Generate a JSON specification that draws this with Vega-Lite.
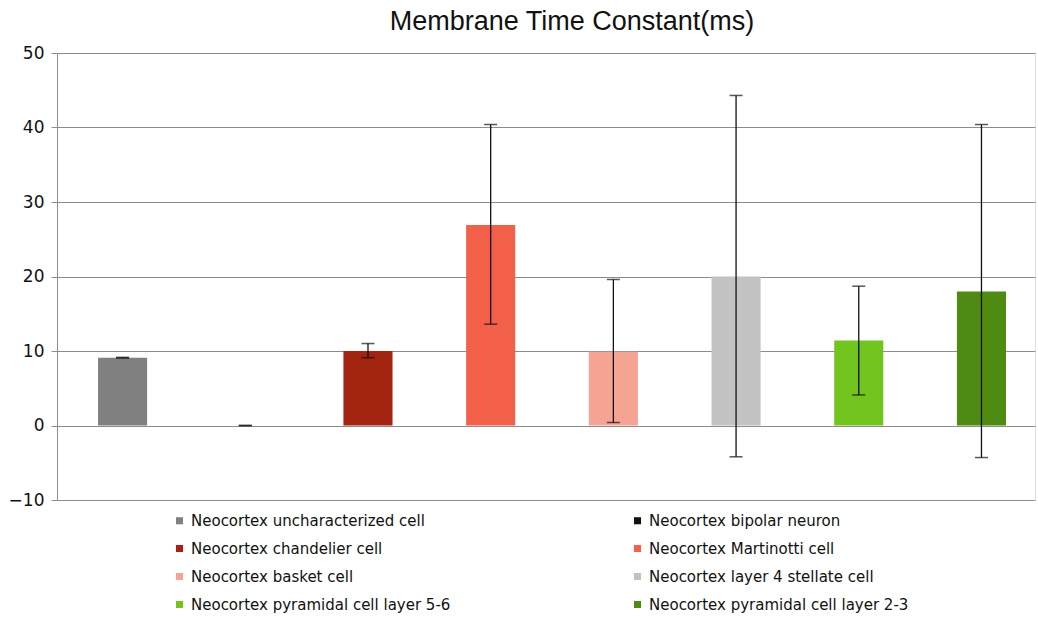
{
  "$schema": "https://vega.github.io/schema/vega-lite/v6.json",
  "width": 978,
  "height": 447,
  "autosize": "none",
  "padding": {"left": 57, "top": 53, "right": 3, "bottom": 117},
  "background": "white",
  "title": {"text": "Membrane Time Constant(ms)", "font": "Liberation Sans", "fontSize": 27, "fontWeight": "normal", "color": "#111111", "offset": 8, "anchor": "middle", "dx": 26},
  "data": {"values": [
    {"cell": "Neocortex uncharacterized cell", "value": 9.1, "lo": 9.05, "hi": 9.15},
    {"cell": "Neocortex bipolar neuron", "value": 0, "lo": 0, "hi": 0},
    {"cell": "Neocortex chandelier cell", "value": 10.0, "lo": 9.1, "hi": 11.0},
    {"cell": "Neocortex Martinotti cell", "value": 26.9, "lo": 13.6, "hi": 40.4},
    {"cell": "Neocortex basket cell", "value": 9.9, "lo": 0.4, "hi": 19.6},
    {"cell": "Neocortex layer 4 stellate cell", "value": 20.0, "lo": -4.2, "hi": 44.3},
    {"cell": "Neocortex pyramidal cell layer 5-6", "value": 11.4, "lo": 4.1, "hi": 18.7},
    {"cell": "Neocortex pyramidal cell layer 2-3", "value": 18.0, "lo": -4.3, "hi": 40.4}
  ]},
  "encoding": {
    "x": {"field": "cell", "type": "nominal", "sort": null, "axis": null, "scale": {"paddingInner": 0.6, "paddingOuter": 0.2855, "align": 0.586}}
  },
  "layer": [
    {
      "mark": {"type": "bar"},
      "encoding": {
        "y": {"field": "value", "type": "quantitative", "scale": {"domain": [-10, 50], "nice": false, "zero": false},
          "axis": {"title": null, "values": [-10, 0, 10, 20, 30, 40, 50], "grid": true, "gridColor": "#8c8c8c", "gridOpacity": 1, "domain": true, "domainColor": "#8c8c8c", "tickColor": "#8c8c8c", "tickSize": 6, "labelFont": "DejaVu Sans", "labelFontSize": 17, "labelColor": "#111111", "labelPadding": 7}},
        "color": {"field": "cell", "type": "nominal",
          "scale": {"domain": ["Neocortex uncharacterized cell", "Neocortex chandelier cell", "Neocortex basket cell", "Neocortex pyramidal cell layer 5-6", "Neocortex bipolar neuron", "Neocortex Martinotti cell", "Neocortex layer 4 stellate cell", "Neocortex pyramidal cell layer 2-3"],
            "range": ["#808080", "#a2230f", "#f5a393", "#72c41e", "#111111", "#f2604a", "#c2c2c2", "#4f8a12"]},
          "legend": {"title": null, "orient": "none", "legendX": 115, "legendY": 460, "columns": 2, "columnPadding": 179, "rowPadding": 12, "symbolType": "square", "symbolSize": 50, "symbolStrokeWidth": 0, "labelFont": "DejaVu Sans", "labelFontSize": 15, "labelColor": "#111111", "labelLimit": 400, "labelOffset": 4}}
      }
    },
    {
      "mark": {"type": "rule", "color": "#111111", "strokeWidth": 1.3},
      "encoding": {"y": {"field": "lo", "type": "quantitative"}, "y2": {"field": "hi"}}
    },
    {
      "mark": {"type": "tick", "color": "#111111", "thickness": 1.5, "size": 13, "orient": "horizontal"},
      "encoding": {"y": {"field": "lo", "type": "quantitative"}}
    },
    {
      "mark": {"type": "tick", "color": "#111111", "thickness": 1.5, "size": 13, "orient": "horizontal"},
      "encoding": {"y": {"field": "hi", "type": "quantitative"}}
    }
  ]
}
